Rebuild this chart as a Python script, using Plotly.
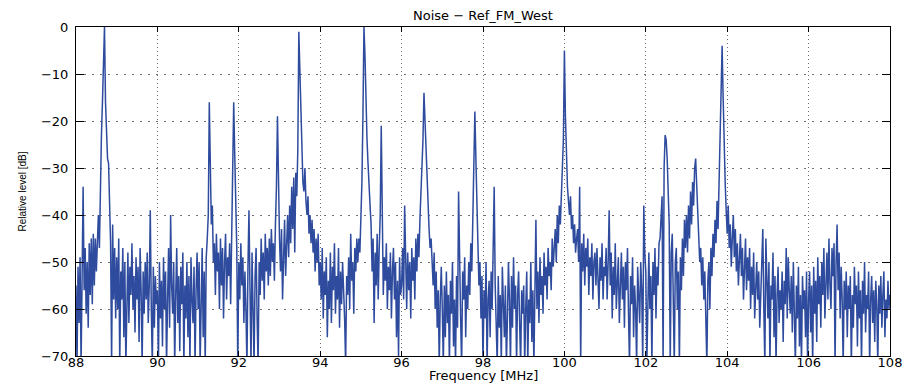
import plotly.graph_objects as go

# Frequency sampling grid (MHz)
freq_start = 88.0
freq_step = 0.025

# Relative level [dB], one list per MHz (40 samples each, 0.025 MHz apart)
lv_88 = [-55, -72, -51, -63, -49, -72, -53, -34, -56, -47,
         -61, -50, -64, -46, -57, -45, -59, -44, -55, -45,
         -52, -44, -40, -47, -32, -23, -16, -5, 0, -16,
         -22, -28, -29, -38, -46, -72, -42, -58, -47, -62]
lv_89 = [-49, -60, -45, -72, -52, -58, -47, -66, -50, -72,
         -55, -48, -63, -51, -57, -46, -60, -53, -65, -49,
         -58, -51, -67, -47, -56, -72, -52, -61, -50, -58,
         -48, -63, -55, -39, -60, -72, -51, -64, -53, -59]
lv_90 = [-56, -72, -50, -62, -54, -68, -49, -60, -52, -72,
         -58, -47, -64, -40, -55, -61, -50, -72, -57, -47,
         -63, -53, -69, -51, -59, -48, -72, -55, -62, -50,
         -66, -53, -72, -49, -58, -63, -51, -72, -56, -48]
lv_91 = [-60, -50, -72, -54, -47, -66, -52, -72, -49, -45,
         -40, -16, -31, -42, -38, -50, -46, -57, -44, -52,
         -48, -60, -45, -55, -47, -62, -50, -44, -58, -49,
         -53, -46, -59, -42, -33, -16, -27, -40, -47, -72]
lv_92 = [-50, -58, -46, -55, -49, -63, -52, -60, -72, -51,
         -39, -56, -72, -48, -60, -72, -53, -47, -62, -72,
         -50, -57, -45, -54, -48, -58, -44, -52, -47, -55,
         -45, -53, -43, -50, -46, -54, -42, -34, -19, -38]
lv_93 = [-45, -52, -43, -58, -47, -41, -53, -44, -40, -49,
         -38, -46, -34, -43, -32, -48, -31, -36, -26, -1,
         -9, -20, -27, -33, -35, -30, -37, -40, -36, -44,
         -40, -46, -41, -48, -43, -52, -45, -50, -44, -55]
lv_94 = [-50, -58, -47, -62, -52, -57, -49, -66, -54, -60,
         -48, -63, -51, -56, -46, -61, -53, -58, -47, -64,
         -52, -59, -50, -55, -62, -72, -53, -57, -49, -60,
         -44, -54, -50, -61, -47, -52, -45, -50, -45, -48]
lv_95 = [-40, -33, -19, 0, -6, -18, -24, -29, -35, -38,
         -42, -52, -45, -63, -48, -55, -44, -58, -47, -40,
         -21, -42, -57, -49, -54, -46, -60, -51, -56, -48,
         -62, -52, -47, -58, -50, -66, -54, -70, -49, -57]
lv_96 = [-55, -47, -58, -38, -52, -60, -48, -56, -50, -62,
         -47, -54, -49, -58, -45, -52, -44, -49, -41, -36,
         -30, -24, -14, -20, -29, -35, -40, -43, -47, -45,
         -50, -55, -48, -60, -52, -64, -56, -72, -58, -51]
lv_97 = [-60, -72, -55, -66, -52, -63, -57, -72, -54, -61,
         -50, -68, -58, -72, -53, -64, -35, -56, -62, -72,
         -52, -58, -49, -66, -55, -60, -50, -57, -46, -52,
         -40, -30, -18, -28, -38, -47, -55, -50, -62, -53]
lv_98 = [-72, -56, -62, -50, -72, -58, -54, -66, -52, -60,
         -48, -34, -55, -61, -72, -53, -64, -57, -72, -51,
         -59, -66, -55, -72, -62, -50, -58, -72, -53, -64,
         -49, -60, -55, -72, -57, -52, -63, -72, -56, -61]
lv_99 = [-55, -72, -60, -52, -72, -58, -63, -50, -67, -56,
         -72, -54, -41, -60, -52, -63, -49, -57, -53, -61,
         -48, -55, -51, -58, -47, -53, -50, -56, -45, -51,
         -47, -43, -50, -40, -46, -38, -42, -34, -30, -24]
lv_100 = [-5, -19, -30, -34, -37, -40, -36, -43, -40, -46,
          -42, -48, -45, -43, -50, -34, -72, -46, -52, -44,
          -55, -47, -51, -45, -57, -49, -53, -46, -58, -50,
          -48, -55, -47, -52, -60, -49, -54, -46, -58, -51]
lv_101 = [-53, -47, -58, -50, -39, -55, -48, -62, -51, -57,
          -46, -60, -52, -49, -63, -54, -48, -58, -51, -64,
          -50, -56, -47, -61, -72, -53, -59, -49, -66, -55,
          -60, -72, -51, -57, -63, -50, -56, -72, -38, -48]
lv_102 = [-52, -72, -56, -48, -60, -53, -72, -50, -57, -47,
          -62, -51, -55, -46, -45, -41, -36, -72, -30, -23,
          -24, -28, -36, -42, -72, -48, -44, -55, -72, -50,
          -47, -60, -52, -72, -49, -56, -45, -53, -41, -47]
lv_103 = [-40, -48, -38, -45, -35, -42, -33, -38, -30, -28,
          -34, -40, -45, -50, -47, -55, -49, -58, -52, -62,
          -72, -54, -50, -60, -47, -53, -44, -49, -41, -46,
          -37, -43, -33, -24, -12, -4, -15, -26, -33, -39]
lv_104 = [-44, -38, -47, -42, -51, -45, -40, -49, -43, -52,
          -46, -55, -48, -44, -53, -47, -58, -50, -45, -56,
          -49, -54, -47, -60, -51, -57, -48, -62, -53, -50,
          -58, -52, -64, -55, -49, -43, -60, -72, -45, -56]
lv_105 = [-62, -50, -72, -55, -58, -48, -66, -53, -72, -57,
          -51, -63, -56, -60, -52, -67, -54, -59, -47, -62,
          -49, -56, -61, -53, -65, -50, -58, -72, -55, -62,
          -51, -68, -57, -72, -53, -60, -56, -66, -52, -72]
lv_106 = [-58, -52, -65, -55, -72, -51, -61, -54, -67, -49,
          -59, -53, -64, -50, -57, -47, -62, -52, -48, -58,
          -45, -55, -60, -47, -53, -46, -72, -50, -42, -56,
          -48, -62, -51, -58, -72, -54, -60, -52, -66, -55]
lv_107 = [-60, -53, -72, -57, -64, -51, -59, -55, -68, -52,
          -62, -56, -72, -54, -61, -50, -65, -57, -60, -52,
          -72, -58, -53, -63, -56, -67, -54, -59, -72, -55,
          -61, -53, -64, -57, -52, -66, -58, -62, -54, -60]
lv_108 = [-57]

levels = (lv_88 + lv_89 + lv_90 + lv_91 + lv_92 + lv_93 + lv_94 + lv_95
          + lv_96 + lv_97 + lv_98 + lv_99 + lv_100 + lv_101 + lv_102
          + lv_103 + lv_104 + lv_105 + lv_106 + lv_107 + lv_108)
freqs = [round(freq_start + freq_step * i, 4) for i in range(len(levels))]

x_ticks = [88, 90, 92, 94, 96, 98, 100, 102, 104, 106, 108]
y_ticks = [-70, -60, -50, -40, -30, -20, -10, 0]

title_text = "Noise \u2212 Ref_FM_West"
x_title = "Frequency [MHz]"
y_title = "Relative level [dB]"

line_color = "#2E4B9E"
font_main = "DejaVu Sans"

fig = go.Figure()
fig.add_trace(go.Scatter(x=freqs, y=levels, mode="lines",
                         line=dict(color=line_color, width=1.5),
                         showlegend=False, hoverinfo="skip"))

axis_common = dict(showline=True, linecolor="black", linewidth=1,
                   mirror="ticks", ticks="inside", tickcolor="black",
                   showgrid=True, gridcolor="#6f6f6f", gridwidth=1,
                   zeroline=False, automargin=False,
                   tickfont=dict(family=font_main, size=13, color="black"))

fig.update_xaxes(range=[88, 108], tickvals=x_ticks, ticklen=5,
                 griddash="1px,3px", ticklabelstandoff=-6, **axis_common)
fig.update_yaxes(range=[-70, 0], tickvals=y_ticks, ticklen=8,
                 griddash="2px,6px", ticklabelstandoff=4, **axis_common)

fig.update_layout(
    width=910, height=385,
    margin=dict(l=76, r=20, t=27, b=29, pad=0),
    paper_bgcolor="white", plot_bgcolor="white",
    font=dict(family=font_main, color="black"),
    annotations=[
        dict(text=title_text, xref="paper", yref="paper", x=0.5, y=1,
             xanchor="center", yanchor="middle", yshift=12, showarrow=False,
             font=dict(family=font_main, size=13, color="black")),
        dict(text=x_title, xref="paper", yref="paper", x=0.5, y=0,
             xanchor="center", yanchor="middle", yshift=-19, showarrow=False,
             font=dict(family=font_main, size=13, color="black")),
        dict(text=y_title, xref="paper", yref="paper", x=0, y=0.5,
             xanchor="center", yanchor="middle", xshift=-54, textangle=-90,
             showarrow=False,
             font=dict(family="Liberation Sans", size=10, color="black")),
    ],
)

fig.write_html("out.html")
